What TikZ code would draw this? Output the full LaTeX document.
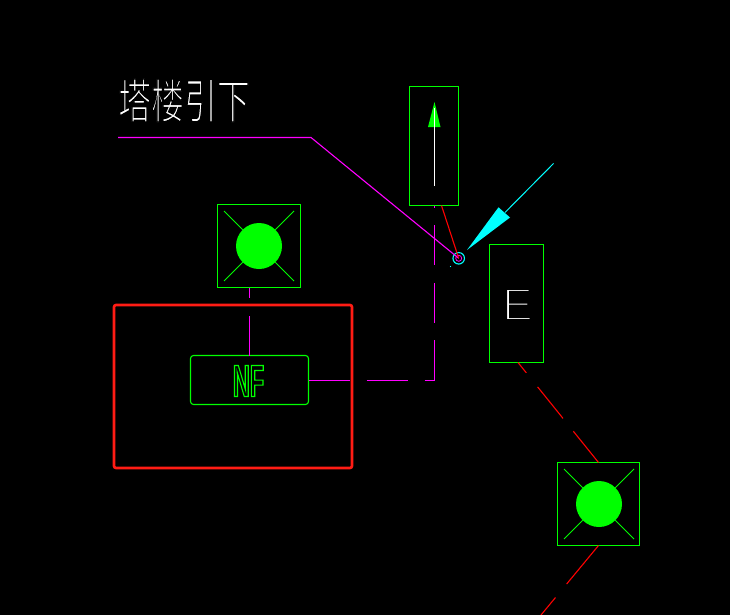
\documentclass[tikz,border=0pt]{standalone}
\usepackage{fontspec}
\setmainfont{Liberation Sans}
\newfontfamily\cjk[FakeStretch=0.7]{Noto Sans CJK SC}
\newfontfamily\narrowsans[FakeStretch=0.52]{Liberation Sans Bold}
\newcommand{\thinglyph}[2]{\special{pdf:code 2 Tr 0 0 0 RG #1 w}#2\special{pdf:code 0 Tr 1 w}}
\newcommand{\outlineglyph}[1]{\special{pdf:code 1 Tr 0 1 0 RG 1.1 w}#1\special{pdf:code 0 Tr 1 w}}
\definecolor{cadgreen}{RGB}{0,255,0}
\definecolor{cadmag}{RGB}{255,0,255}
\definecolor{cadcyan}{RGB}{0,255,255}
\definecolor{cadred}{RGB}{255,0,0}
\definecolor{boxred}{RGB}{255,28,20}
\tikzset{
  x=1pt,y=-1pt,
  cadbox/.style={draw=cadgreen,line width=1.1pt,inner sep=0pt,outer sep=0pt},
  lampdot/.style={circle,fill=cadgreen,inner sep=0pt,outer sep=0pt,minimum size=46pt},
  ray/.style={draw=cadgreen,line width=1pt},
  magwire/.style={draw=cadmag,line width=1.1pt},
  redwire/.style={draw=cadred,line width=1.1pt},
}
\begin{document}
\begin{tikzpicture}
\useasboundingbox (0,0) rectangle (730,615);
\fill[black] (0,0) rectangle (730,615);

% red frame
\draw[boxred,line width=2.6pt,rounded corners=2pt] (114,305) rectangle (352,468);

% label
\node[text=white,inner sep=0pt,font=\cjk\fontsize{47}{47}\selectfont] (label) at (184,100.5) {\thinglyph{1.25}{塔楼引下}};

% boxes
\node[cadbox,minimum width=49pt,minimum height=119pt] (tower) at (434,146) {};
\node[cadbox,minimum width=54pt,minimum height=118pt] (ebox) at (516.5,303.5) {};
\node[inner sep=0pt,text=white,font=\fontsize{46}{46}\selectfont] (eletter) at (517.5,304.5) {\thinglyph{2.4}{E}};
\node[cadbox,rounded corners=3pt,minimum width=118pt,minimum height=49pt] (nf) at (249.5,380) {};
\node[inner sep=0pt,text=cadgreen,font=\narrowsans\fontsize{45}{45}\selectfont] (nftext) at (248.5,381) {\outlineglyph{NF}};

% lamps
\node[cadbox,minimum width=83pt,minimum height=83pt] (lampA) at (259,246) {};
\node[lampdot] (dotA) at (259,246) {};
\node[cadbox,minimum width=82pt,minimum height=83pt] (lampB) at (598.5,504) {};
\node[lampdot] (dotB) at (599,504) {};
\foreach \d/\cx/\cy in {A/259/246,B/599/504}{
  \coordinate (nw\d) at (\cx-35,\cy-35);
  \coordinate (ne\d) at (\cx+35,\cy-35);
  \coordinate (sw\d) at (\cx-35,\cy+35);
  \coordinate (se\d) at (\cx+35,\cy+35);
  \draw[ray] (nw\d) -- (dot\d.north west);
  \draw[ray] (ne\d) -- (dot\d.north east);
  \draw[ray] (sw\d) -- (dot\d.south west);
  \draw[ray] (se\d) -- (dot\d.south east);
}

% tower arrow
\coordinate (arrowbase) at (434.5,186);
\coordinate (arrowtip) at (434.5,102);
\coordinate (headL) at (428,127);
\coordinate (headR) at (440.5,127);
\fill[cadgreen] (arrowtip) -- (headR) -- (headL) -- cycle;
\draw[white,line width=1.1pt] (arrowbase) -- (434.5,108);

% junction
\node[circle,draw=cadcyan,line width=1.1pt,inner sep=0pt,outer sep=0pt,minimum size=11.5pt] (junction) at (458.7,258.3) {};
\node[circle,draw=cadmag,line width=0.8pt,inner sep=0pt,outer sep=0pt,minimum size=6pt] (core) at (458.7,258.3) {};
\coordinate (speck) at (450.5,266.5);
\fill[cadcyan] (speck) circle (0.7);

% cyan leader arrow
\coordinate (cyanend) at (553.5,163.5);
\coordinate (cyanbase) at (505,212.5);
\coordinate (cyantip) at (467,250);
\coordinate (cyanA) at (498.5,207.3);
\coordinate (cyanB) at (510,217.5);
\draw[cadcyan,line width=1pt] (cyanend) -- (cyanbase);
\fill[cadcyan] (cyantip) -- (cyanA) -- (cyanB) -- cycle;

% magenta leader
\coordinate (leadstart) at (118,137.5);
\coordinate (leadknee) at (311,137.5);
\draw[magwire] (leadstart) -- (leadknee) -- (core.center);

% red from tower to junction
\draw[redwire] ([xshift=7.5pt]tower.south) -- (core.center);

% magenta dashed wires
\coordinate (corner) at (434.5,380.5);
\draw[magwire,dash pattern=on 41pt off 17pt on 41pt off 17pt on 51pt off 17pt on 40pt off 18pt on 40pt off 17pt on 5pt off 20pt] ([yshift=-0.5pt]nf.east) -- (corner) -- ([xshift=0.5pt]tower.south);
\draw[magwire,dash pattern=on 40pt off 18pt on 10pt off 5pt] (nf.north) -- ([xshift=-9.5pt]lampA.south);

% red dashed wires
\draw[redwire,dash pattern=on 13.3pt off 18pt on 40.5pt off 16.5pt on 41pt off 5pt] ([xshift=1.5pt]ebox.south) -- (lampB.north);
\coordinate (wireend) at (541,615);
\draw[redwire,dash pattern=on 50pt off 17.5pt on 30pt off 5pt] (lampB.south) -- (wireend);
\end{tikzpicture}
\end{document}
